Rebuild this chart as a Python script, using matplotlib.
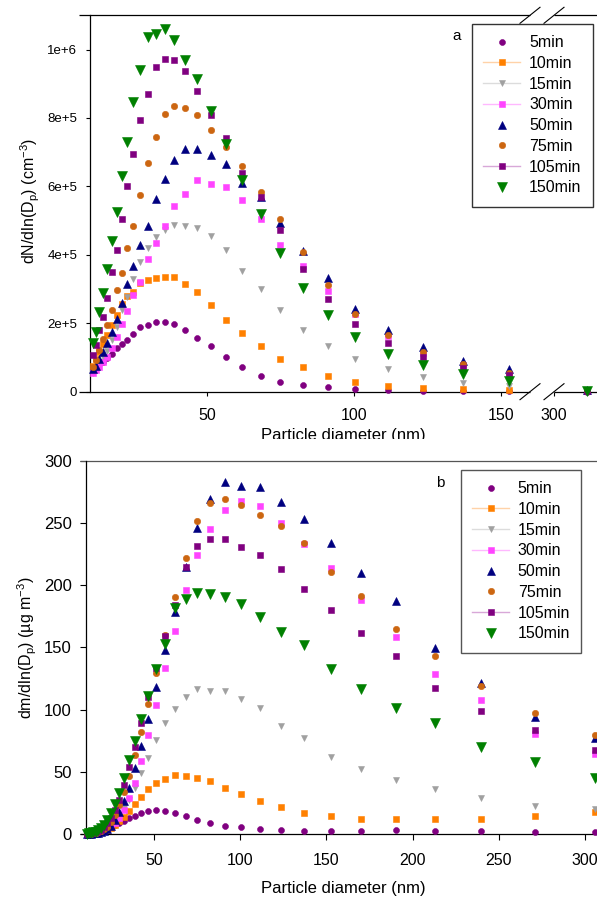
import numpy as np
import matplotlib
matplotlib.use('Agg')
import matplotlib.pyplot as plt
from matplotlib.lines import Line2D
from matplotlib.patches import Rectangle

plt.rcParams['font.family'] = ['Liberation Sans', 'DejaVu Sans']
plt.rcParams['mathtext.fontset'] = 'custom'
plt.rcParams['mathtext.rm'] = 'Liberation Sans'
plt.rcParams['mathtext.it'] = 'Liberation Sans:italic'

# ---- data -------------------------------------------------------------
# particle diameters (nm)
diam = [11.1, 12.2, 13.4, 14.7, 16.1, 17.6, 19.3, 21.0, 22.9, 25.0, 27.3, 29.8,
        32.5, 35.6, 38.9, 42.5, 46.7, 51.3, 56.4, 62.0, 68.3, 75.0, 82.6, 91.3,
        100.5, 111.6, 123.6, 137.1, 152.7, 170.1, 190.4, 213.2, 239.9, 271.2, 306.0]
# panel a only shows the bins up to 152.7 nm plus the last one after the break
diam_n = diam[:29] + [diam[-1]]

labels = ['5min', '10min', '15min', '30min', '50min', '75min', '105min', '150min']

# panel a: dN/dlnDp in units of 1e5 cm-3
n5 = [0.62, 0.72, 0.80, 0.88, 0.98, 1.09, 1.27, 1.39, 1.51, 1.69, 1.88, 1.95, 2.04, 2.04, 1.98,
      1.80, 1.56, 1.33, 1.00, 0.71, 0.47, 0.29, 0.20, 0.13, 0.08, 0.05, 0.03, 0.02, 0.01, 0.0]
n10 = [0.75, 0.95, 1.15, 1.40, 1.65, 1.95, 2.25, 2.55, 2.80, 2.92, 3.18, 3.25, 3.31, 3.34, 3.34,
       3.16, 2.90, 2.52, 2.09, 1.73, 1.33, 0.97, 0.71, 0.47, 0.29, 0.18, 0.10, 0.07, 0.04, 0.01]
n15 = [0.55, 0.65, 0.80, 1.00, 1.20, 1.51, 1.90, 2.39, 2.77, 3.28, 3.79, 4.20, 4.51, 4.72, 4.87,
       4.84, 4.77, 4.55, 4.14, 3.52, 3.00, 2.39, 1.80, 1.34, 0.95, 0.66, 0.44, 0.26, 0.17, 0.02]
n30 = [0.54, 0.63, 0.73, 0.88, 1.02, 1.28, 1.61, 1.97, 2.35, 2.82, 3.22, 3.87, 4.35, 4.85, 5.42,
       5.77, 6.20, 6.08, 5.97, 5.60, 5.06, 4.30, 3.68, 2.94, 2.26, 1.62, 1.12, 0.78, 0.52, 0.03]
n50 = [0.65, 0.75, 0.95, 1.17, 1.41, 1.75, 2.12, 2.59, 3.15, 3.66, 4.30, 4.85, 5.63, 6.23, 6.77,
       7.08, 7.08, 6.91, 6.64, 6.10, 5.69, 4.92, 4.12, 3.31, 2.41, 1.80, 1.31, 0.90, 0.65, 0.04]
n75 = [0.73, 0.94, 1.22, 1.53, 1.94, 2.40, 2.97, 3.47, 4.19, 4.84, 5.76, 6.67, 7.45, 8.11, 8.34,
       8.30, 8.08, 7.64, 7.15, 6.59, 5.84, 5.05, 4.09, 3.12, 2.27, 1.66, 1.17, 0.81, 0.55, 0.03]
n105 = [1.07, 1.36, 1.79, 2.17, 2.73, 3.49, 4.14, 5.06, 6.01, 6.94, 7.93, 8.71, 9.49, 9.73, 9.70,
        9.37, 8.79, 8.08, 7.40, 6.39, 5.69, 4.72, 3.60, 2.71, 1.98, 1.41, 1.02, 0.68, 0.49, 0.03]
n150 = [1.43, 1.74, 2.33, 2.87, 3.60, 4.41, 5.25, 6.30, 7.30, 8.47, 9.39, 10.37, 10.46, 10.61, 10.29,
        9.70, 9.13, 8.20, 7.25, 6.20, 5.18, 4.04, 3.02, 2.24, 1.61, 1.09, 0.78, 0.52, 0.32, 0.02]

# panel b: dm/dlnDp (ug m-3)
m5 = [0.3, 0.4, 0.6, 0.9, 1.3, 1.8, 2.5, 3.3, 4.3, 5.5, 7.0, 8.5, 10.4, 12.6, 14.5, 17.1, 18.7, 19.5,
      18.7, 16.9, 14.7, 11.5, 9.1, 6.7, 5.4, 4.0, 3.2, 2.7, 2.1, 2.4, 3.2, 2.4, 2.1, 1.9, 1.4]
m10 = [0.15, 0.2, 0.3, 0.5, 0.7, 1.1, 1.6, 2.4, 3.6, 5.2, 7.5, 10.5, 13.9, 18.7, 24.0, 30.0, 35.9, 41.3,
       44.5, 47.4, 46.7, 45.3, 42.8, 37.2, 32.1, 26.8, 21.9, 17.1, 14.7, 12.1, 12.1, 12.1, 12.1, 14.7, 17.4]
m15 = [0.2, 0.3, 0.45, 0.7, 1.0, 1.5, 2.3, 3.4, 5.0, 7.3, 10.5, 15.0, 20.6, 27.3, 36.7, 48.8, 61.3, 75.5,
       89.2, 100.2, 110.3, 116.3, 115.1, 115.1, 108.2, 101.0, 87.0, 77.4, 62.1, 52.0, 43.4, 35.9, 29.2, 22.5, 19.8]
m30 = [0.15, 0.25, 0.4, 0.6, 0.9, 1.4, 2.0, 3.0, 4.3, 6.2, 8.6, 12.6, 19.5, 28.7, 41.0, 58.3, 79.8, 103.3,
       133.1, 163.3, 196.0, 224.1, 245.0, 260.3, 267.8, 263.8, 249.6, 233.0, 214.0, 188.0, 158.5, 128.5,
       107.7, 80.3, 64.3]
m50 = [0.15, 0.2, 0.3, 0.45, 0.7, 1.1, 1.7, 2.6, 4.0, 6.4, 11.2, 17.9, 26.2, 37.3, 52.8, 70.7, 92.1, 118.3,
       147.8, 178.6, 214.8, 245.6, 268.9, 282.5, 279.8, 279.0, 267.0, 253.1, 234.0, 209.9, 186.9, 149.2,
       121.1, 94.2, 76.9]
m75 = [0.15, 0.25, 0.4, 0.65, 1.0, 1.6, 2.5, 3.8, 6.0, 9.5, 15.0, 23.2, 33.5, 46.8, 63.5, 81.6, 104.3, 129.1,
       160.0, 190.7, 221.5, 251.7, 265.7, 268.9, 264.3, 256.3, 247.4, 233.5, 210.2, 191.2, 164.5, 143.3,
       119.2, 97.5, 79.5]
m105 = [0.3, 0.4, 0.6, 1.0, 1.5, 2.3, 3.6, 5.5, 8.5, 13.0, 19.0, 27.5, 39.7, 53.5, 69.7, 88.9, 110.3, 133.1,
        159.1, 184.0, 214.3, 231.4, 237.0, 237.0, 230.8, 224.1, 212.9, 196.8, 180.0, 161.7, 143.0, 117.1,
        99.1, 83.6, 67.5]
m150 = [0.35, 0.5, 0.8, 1.3, 2.0, 3.2, 5.0, 7.5, 11.5, 17.0, 24.0, 33.0, 44.7, 59.5, 75.0, 92.6, 111.3, 132.3,
        152.6, 181.3, 188.6, 193.4, 192.8, 190.7, 184.5, 174.6, 162.5, 151.8, 132.7, 116.3, 101.5, 88.9,
        70.1, 57.6, 44.7]

number_series = [n5, n10, n15, n30, n50, n75, n105, n150]
mass_series = [m5, m10, m15, m30, m50, m75, m105, m150]

# ---- styles -----------------------------------------------------------
colors = ['#800080', '#FF8000', '#A0A0A0', '#FF44FF', '#000080', '#CC6611', '#800080', '#008000']
markers = ['o', 's', 'v', 's', '^', 'o', 's', 'v']
msizes = [4.3, 5.0, 4.8, 5.0, 6.2, 4.6, 4.6, 7.2]
leg_lines = [None, '#FFD2A8', '#DCDCDC', '#FFB8FF', None, None, '#D8A8D8', None]

W, H = 597, 897
fig = plt.figure(figsize=(W / 100, H / 100), dpi=100)


def px_box(l, t, r, b):
    return [l / W, 1 - b / H, (r - l) / W, (b - t) / H]


# broken x axis for panel a: 160 -> 300 squeezed, post-break stretched
BRK_LO, BRK_HI, GAP_U, POST = 160.0, 300.0, 8.1, 1.87


def fwd(x):
    x = np.asarray(x, float)
    return np.where(x <= BRK_LO, x,
                    np.where(x < BRK_HI, BRK_LO + (x - BRK_LO) * GAP_U / (BRK_HI - BRK_LO),
                             BRK_LO + GAP_U + (x - BRK_HI) * POST))


def inv(u):
    u = np.asarray(u, float)
    return np.where(u <= BRK_LO, u,
                    np.where(u < BRK_LO + GAP_U, BRK_LO + (u - BRK_LO) * (BRK_HI - BRK_LO) / GAP_U,
                             BRK_HI + (u - BRK_LO - GAP_U) / POST))


ax1 = fig.add_axes(px_box(90, 15.3, 600, 391.7))
ax2 = fig.add_axes(px_box(85.7, 460.7, 603.2, 834))

for i in range(len(labels)):
    ax1.plot(diam_n, np.array(number_series[i]) * 1e5, ls='none', marker=markers[i], ms=msizes[i],
             color=colors[i], mec=colors[i], mew=0.4, clip_on=False, zorder=3 + i * 0.1)
    ax2.plot(diam, mass_series[i], ls='none', marker=markers[i], ms=msizes[i],
             color=colors[i], mec=colors[i], mew=0.4, clip_on=False, zorder=3 + i * 0.1)

ax1.set_xscale('function', functions=(fwd, inv))
ax1.set_xlim(10.2, 308.4)
ax1.set_ylim(0, 1.1e6)
ax1.set_xticks([50, 100, 150, 300])
ax1.set_xticklabels(['50', '100', '150', '300'])
ax1.set_yticks([0, 2e5, 4e5, 6e5, 8e5, 1e6])
ax1.set_yticklabels(['0', '2e+5', '4e+5', '6e+5', '8e+5', '1e+6'])
ax1.minorticks_off()

ax2.set_xlim(10.4, 310.5)
ax2.set_ylim(0, 300)
ax2.set_xticks([50, 100, 150, 200, 250, 300])
ax2.set_yticks([0, 50, 100, 150, 200, 250, 300])

for ax in (ax1, ax2):
    for s in ('top', 'bottom', 'right'):
        ax.spines[s].set_visible(False)
    ax.spines['left'].set_linewidth(0.9)

ax1.tick_params(axis='y', direction='out', length=3, width=0.8, pad=6.3, labelsize=9.5)
ax1.tick_params(axis='x', direction='out', length=3, width=0.8, pad=9, labelsize=11.5)
ax2.tick_params(axis='y', direction='out', length=4, width=0.8, pad=6, labelsize=12)
ax2.tick_params(axis='x', direction='out', length=4, width=0.8, pad=9.4, labelsize=11.5)


def axline(ax, x0, x1, y, color):
    ax.plot([x0, x1], [y, y], transform=ax.transAxes, color=color, lw=0.9,
            clip_on=False, solid_capstyle='butt', zorder=2.5)


# panel a frame lines with the break
b1, b2 = (530 - 90) / 510, (554 - 90) / 510
for y in (0, 1):
    axline(ax1, -11 / 510, b1, y, 'black')
    axline(ax1, b2, 1, y, 'black')
    for c in (b1, b2):
        ax1.plot([c - 10 / 510, c + 10 / 510], [y - 8 / 376.4, y + 8 / 376.4], transform=ax1.transAxes,
                 color='black', lw=0.8, clip_on=False, zorder=2.5)

# panel b frame lines
axline(ax2, -6 / 517.5, 1, 0, 'black')
axline(ax2, -6 / 517.5, 1, 1, '#555555')

# legends
handles = []
for i in range(len(labels)):
    handles.append(Line2D([], [], color=leg_lines[i] if leg_lines[i] else 'none',
                          ls='-' if leg_lines[i] else 'none', lw=1.0,
                          marker=markers[i], ms=msizes[i], mfc=colors[i], mec=colors[i], mew=0.4))

for ax, (lx, ly), ec in ((ax1, (472.3, 24), '#333333'), (ax2, (461, 470), '#555555')):
    leg = ax.legend(handles, labels, loc='upper left', bbox_to_anchor=(lx / W, 1 - ly / H),
                    bbox_transform=fig.transFigure, borderaxespad=0, fontsize=11.5,
                    frameon=True, fancybox=False, framealpha=1, edgecolor=ec,
                    handlelength=2.3, handletextpad=0.55, labelspacing=0.36, borderpad=0.7)
    leg.get_frame().set_linewidth(1.0)
    leg.set_zorder(10)

fig.text(456.7 / W, 1 - 40 / H, 'a', ha='center', va='baseline', fontsize=11)
fig.text(440.7 / W, 1 - 486.7 / H, 'b', ha='center', va='baseline', fontsize=11)

# axis labels
fig.text(343 / W, 1 - 440 / H, 'Particle diameter (nm)', ha='center', va='baseline', fontsize=12)
fig.text(343 / W, 1 - 893.3 / H, 'Particle diameter (nm)', ha='center', va='baseline', fontsize=12)
fig.text(35 / W, 1 - 200.5 / H, r'dN/dln(D$_\mathrm{p}$) (cm$^{-3}$)', rotation=90,
         rotation_mode='anchor', ha='center', va='baseline', fontsize=11.5)
fig.text(32 / W, 1 - 647.5 / H, r'dm/dln(D$_\mathrm{p}$) (µg m$^{-3}$)', rotation=90,
         rotation_mode='anchor', ha='center', va='baseline', fontsize=11.5)

# the top x label is cut off by the lower panel in the original
fig.patches.append(Rectangle((0, 1 - 455 / H), 1, 16 / H, transform=fig.transFigure,
                             facecolor='white', edgecolor='none', zorder=20))

fig.savefig('out.png', dpi=100, facecolor='white')
